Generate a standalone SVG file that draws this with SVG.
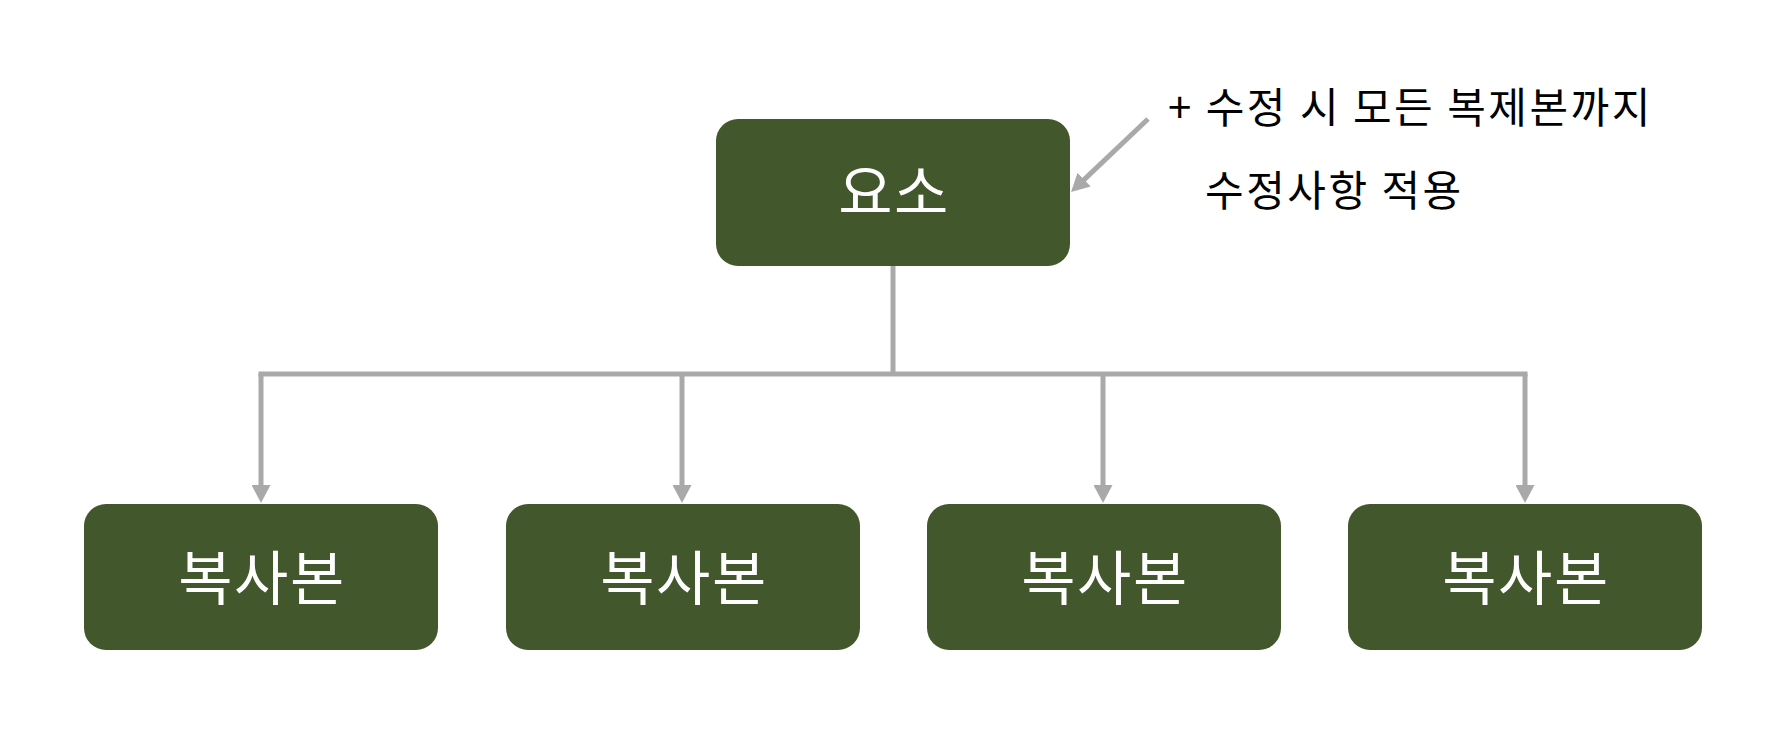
<svg xmlns="http://www.w3.org/2000/svg" width="1766" height="736" viewBox="0 0 1766 736">
  <style>
    .node { fill: #42572c; }
    .ntext { fill: #ffffff; font-family: "Noto Sans CJK KR", "Noto Sans", sans-serif; font-size: 59px; letter-spacing: 1.5px; text-anchor: middle; }
    .conn { stroke: #a9a9a9; stroke-width: 5; fill: none; }
    .note { fill: #000000; font-family: "Noto Sans CJK KR", "Noto Sans", sans-serif; font-size: 42px; letter-spacing: 2.5px; word-spacing: 0px; }
  </style>
  <defs>
    <marker id="arrow" viewBox="0 0 18 19" refX="8" refY="9.5" markerWidth="18" markerHeight="19" markerUnits="userSpaceOnUse" orient="auto">
      <path d="M0,0 L18,9.5 L0,19 z" fill="#a9a9a9"/>
    </marker>
  </defs>
  <rect width="1766" height="736" fill="#ffffff"/>
  <g id="connectors">
    <path class="conn" d="M893,266 V374"/>
    <path class="conn" d="M258.5,374 H1527.5"/>
    <path class="conn" d="M261,374 V493" marker-end="url(#arrow)"/>
    <path class="conn" d="M682,374 V493" marker-end="url(#arrow)"/>
    <path class="conn" d="M1103,374 V493" marker-end="url(#arrow)"/>
    <path class="conn" d="M1525,374 V493" marker-end="url(#arrow)"/>
    <path class="conn" d="M1148,119 L1078.3,185.1" marker-end="url(#arrow)"/>
  </g>
  <g id="node-element">
    <rect class="node" x="716" y="119" width="354" height="147" rx="22"/>
    <text class="ntext" x="894" y="214">요소</text>
  </g>
  <g id="node-copy1">
    <rect class="node" x="84" y="504" width="354" height="146" rx="22"/>
    <text class="ntext" x="262" y="600">복사본</text>
  </g>
  <g id="node-copy2">
    <rect class="node" x="506" y="504" width="354" height="146" rx="22"/>
    <text class="ntext" x="684" y="600">복사본</text>
  </g>
  <g id="node-copy3">
    <rect class="node" x="927" y="504" width="354" height="146" rx="22"/>
    <text class="ntext" x="1105" y="600">복사본</text>
  </g>
  <g id="node-copy4">
    <rect class="node" x="1348" y="504" width="354" height="146" rx="22"/>
    <text class="ntext" x="1526" y="600">복사본</text>
  </g>
  <g id="note">
    <text class="note" x="1168" y="123">+ 수정 시 모든 복제본까지</text>
    <text class="note" x="1205" y="206">수정사항 적용</text>
  </g>
</svg>
